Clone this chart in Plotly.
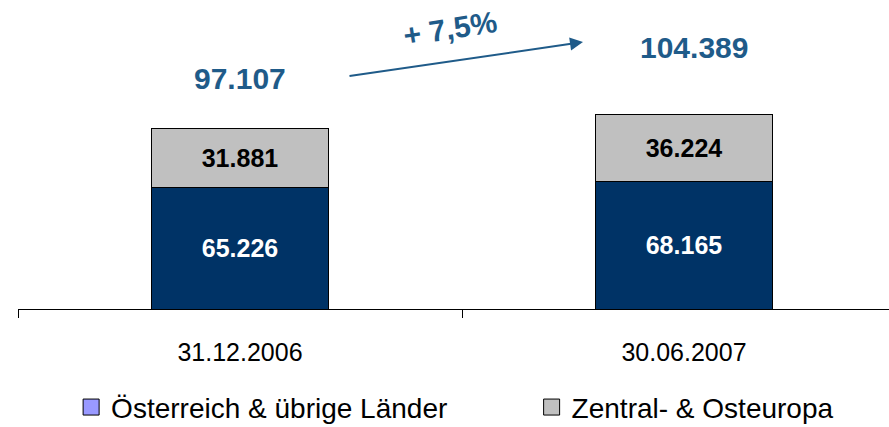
import plotly.graph_objects as go

# data
categories = ['31.12.2006', '30.06.2007']
oesterreich = [65226, 68165]
zentral_ost = [31881, 36224]
legend_names = ['Österreich & übrige Länder', 'Zentral- & Osteuropa']

totals = [a + b for a, b in zip(oesterreich, zentral_ost)]
growth = (totals[1] / totals[0] - 1) * 100

navy = '#003366'
grey = '#C0C0C0'
blue_txt = '#1F5B89'
font = 'Liberation Sans, Arial, sans-serif'

fig = go.Figure()
fig.add_trace(go.Bar(x=categories, y=oesterreich, width=0.4, marker_color=navy,
                     marker_line=dict(color='black', width=1),
                     texttemplate='<b>%{y:,.0f}</b>', textposition='inside',
                     insidetextanchor='middle', textangle=0,
                     textfont=dict(color='white', size=25, family=font),
                     showlegend=False))
fig.add_trace(go.Bar(x=categories, y=zentral_ost, width=0.4, marker_color=grey,
                     marker_line=dict(color='black', width=1),
                     texttemplate='<b>%{y:,.0f}</b>', textposition='inside',
                     insidetextanchor='middle', textangle=0,
                     textfont=dict(color='black', size=25, family=font),
                     showlegend=False))

# legend entries (legend swatch colours differ from bars, as in the original)
for name, col, lg in zip(legend_names, ['#9999FF', grey], ['legend', 'legend2']):
    fig.add_trace(go.Scatter(x=[None], y=[None], mode='markers', name=name, legend=lg,
                             marker=dict(symbol='square', size=18, color=col,
                                         line=dict(color='black', width=1))))

annotations = []
for i, (t, shift) in enumerate(zip(totals, [(0, 50), (10, 67)])):
    annotations.append(dict(x=i, y=t, text=f'<b>{t:,.0f}</b>'.replace(',', '.'),
                            showarrow=False, xshift=shift[0], yshift=shift[1],
                            font=dict(size=30, color=blue_txt, family=font)))
# arrow
annotations.append(dict(x=0.7725, y=143200, ax=-235, ay=34, text='', showarrow=True,
                        arrowhead=2, arrowsize=1.3, arrowwidth=2, arrowcolor=blue_txt,
                        standoff=0))
annotations.append(dict(x=0.474, y=150700, text=f'<b>+ {growth:.1f}%</b>'.replace('.', ','),
                        showarrow=False, textangle=-9,
                        font=dict(size=30, color=blue_txt, family=font)))

legend_style = dict(orientation='h', xref='container', yref='container',
                    yanchor='middle', xanchor='left', font=dict(size=28),
                    itemsizing='trace', bgcolor='rgba(0,0,0,0)')

fig.update_layout(
    barmode='stack', width=889, height=427,
    margin=dict(l=18, r=0, t=0, b=118, autoexpand=False),
    paper_bgcolor='white', plot_bgcolor='white',
    separators=',.',
    font=dict(family=font, color='black'),
    annotations=annotations,
    legend=dict(x=0.08, y=0.046, **legend_style),
    legend2=dict(x=0.598, y=0.046, **legend_style),
)
fig.update_xaxes(type='category', range=[-0.5, 1.4617], automargin=False,
                 showline=True, linecolor='black', linewidth=1,
                 ticks='outside', tickson='boundaries', ticklen=8, tickcolor='black',
                 ticklabelstandoff=21,
                 tickfont=dict(size=25), showgrid=False, zeroline=False)
fig.update_yaxes(range=[0, 165800], visible=False)

# drop the page's default body margin so the figure sits at the window's corner
fig.write_html('out.html', config={'displayModeBar': False},
               post_script="document.body.style.margin='0';")
